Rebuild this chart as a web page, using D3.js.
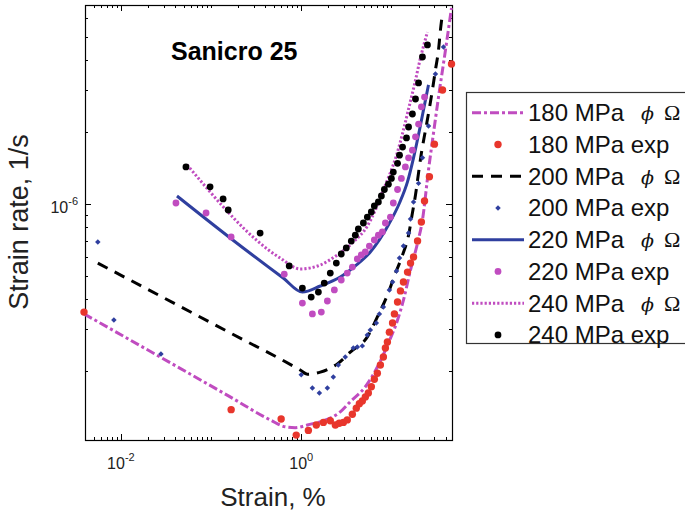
<!DOCTYPE html>
<html>
<head>
<meta charset="utf-8">
<script src="https://cdn.jsdelivr.net/npm/d3@7"></script>
<style>
  body { margin: 0; background: #fff; }
  svg { font-family: "Liberation Sans", Arial, sans-serif; }
</style>
</head>
<body>
<div id="chart"></div>
<script>
// strain in %, rate in units of 1e-6 1/s

// 180 MPa
var model180Strain = [0.0039, 0.163, 0.453, 0.664, 0.858, 1.17, 2.71, 3.5, 5.14, 6.99, 9.26, 11.7, 13.6, 16.3, 19.5, 22.1, 25.8, 29.3, 33.3, 39.8, 46.4];
var model180Rate   = [0.347, 0.156, 0.125, 0.117, 0.116, 0.119, 0.135, 0.149, 0.172, 0.208, 0.262, 0.327, 0.396, 0.530, 0.687, 0.857, 1.39, 1.98, 2.80, 4.41, 6.61];
var exp180Strain = [0.0039, 0.167, 0.599, 0.88, 1.2, 1.47, 1.76, 2.1, 2.39, 2.64, 2.93, 3.24, 3.69, 4.08, 4.41, 4.76, 5.14, 5.55, 5.99, 6.47, 6.99, 7.55, 8.15, 8.58, 9.03, 9.5, 10.3, 10.8, 11.7, 12.6, 13.6, 15.1, 16.3, 17.6, 19.5, 21.5, 23.3, 26.4, 30.0, 36.9, 46.4];
var exp180Rate   = [0.353, 0.138, 0.126, 0.108, 0.113, 0.119, 0.122, 0.124, 0.119, 0.121, 0.122, 0.125, 0.132, 0.140, 0.146, 0.150, 0.156, 0.162, 0.172, 0.185, 0.196, 0.212, 0.229, 0.250, 0.265, 0.291, 0.318, 0.347, 0.389, 0.433, 0.472, 0.519, 0.566, 0.600, 0.700, 0.841, 1.03, 1.30, 1.78, 3.00, 3.85];

// 200 MPa
var model200Strain = [0.00555, 0.163, 0.975, 1.17, 1.63, 2.58, 3.5, 5.41, 6.99, 9.03, 11.1, 13.3, 15.5, 17.1, 18.5, 20.0, 21.5, 23.9, 26.4, 28.5, 30.8, 33.3, 35.0, 36.9];
var model200Rate   = [0.566, 0.289, 0.202, 0.194, 0.198, 0.216, 0.240, 0.278, 0.337, 0.416, 0.514, 0.612, 0.741, 0.917, 1.09, 1.35, 1.63, 2.04, 2.52, 3.00, 3.64, 4.41, 5.35, 6.30];
var exp200Strain = [0.00555, 0.00836, 0.0278, 1.0, 1.33, 1.59, 1.95, 2.27, 2.58, 3.08, 3.78, 4.19, 4.76, 5.41, 5.84, 6.81, 7.36, 8.15, 9.5, 10.3, 11.4, 12.3, 13.6, 15.5, 16.3, 17.6, 20.0, 22.1, 25.8, 30.8, 37.8];
var exp200Rate   = [0.693, 0.327, 0.236, 0.193, 0.170, 0.162, 0.170, 0.189, 0.212, 0.229, 0.250, 0.252, 0.255, 0.283, 0.297, 0.318, 0.347, 0.371, 0.437, 0.472, 0.525, 0.594, 0.667, 0.756, 0.866, 1.02, 1.22, 1.56, 2.12, 3.50, 4.54];

// 220 MPa
var model220Strain = [0.0419, 0.163, 0.631, 1.03, 1.63, 2.71, 3.98, 5.84, 9.26, 12.3, 15.1, 17.6, 20.5, 23.3, 25.8];
var model220Rate   = [1.08, 0.721, 0.490, 0.428, 0.454, 0.495, 0.551, 0.630, 0.817, 1.01, 1.24, 1.56, 2.04, 2.60, 3.15];
var exp220Strain = [0.0408, 0.088, 0.167, 0.648, 1.03, 1.33, 1.67, 1.95, 2.33, 2.78, 3.24, 3.69, 4.19, 4.64, 5.14, 5.70, 6.47, 7.17, 7.94, 8.58, 9.75, 10.5, 11.7, 12.9, 14.3, 15.5, 17.1, 18.5, 20.0, 21.5, 23.3];
var exp220Rate   = [1.01, 0.917, 0.728, 0.509, 0.385, 0.347, 0.353, 0.393, 0.437, 0.481, 0.514, 0.545, 0.589, 0.612, 0.630, 0.667, 0.707, 0.741, 0.764, 0.833, 0.882, 1.01, 1.15, 1.28, 1.43, 1.56, 1.68, 1.91, 2.16, 2.55, 2.80];

// 240 MPa
var model240Strain = [0.0541, 0.585, 0.975, 1.63, 2.51, 3.78, 5.41, 6.64, 7.94, 9.50, 11.4, 13.6, 15.9, 18.0, 21.0, 25.1];
var model240Rate   = [1.46, 0.594, 0.535, 0.556, 0.612, 0.693, 0.809, 0.944, 1.12, 1.32, 1.60, 2.04, 2.60, 3.15, 4.08, 5.24];
var exp240Strain = [0.0527, 0.0975, 0.136, 0.155, 0.350, 0.736, 1.03, 1.29, 1.55, 1.80, 2.10, 2.45, 2.78, 3.16, 3.59, 3.98, 4.30, 4.89, 5.41, 5.99, 6.47, 7.17, 7.74, 8.36, 9.26, 10.0, 10.5, 11.7, 12.3, 13.3, 14.7, 15.5, 17.1, 18.5, 20.0, 22.1, 25.1];
var exp240Rate   = [1.43, 1.18, 1.05, 0.944, 0.756, 0.551, 0.445, 0.408, 0.428, 0.467, 0.514, 0.566, 0.618, 0.655, 0.700, 0.741, 0.786, 0.833, 0.882, 0.926, 0.981, 1.02, 1.08, 1.15, 1.21, 1.28, 1.36, 1.48, 1.60, 1.73, 1.89, 2.10, 2.38, 2.75, 3.21, 4.12, 4.63];

var legendLabels = ["180 MPa", "180 MPa exp", "200 MPa", "200 MPa exp", "220 MPa", "220 MPa exp", "240 MPa", "240 MPa exp"];
var xTickLabels = [{v: 1e-2, exp: "-2"}, {v: 1, exp: "0"}];
var yTickLabels = [{v: 1e-6, exp: "-6"}];

var magenta = "#c04cc0", red = "#e8362c", blue = "#2f3f9f";

function pts(xs, ys) {
    return xs.map(function (d, i) { return {x: d, y: ys[i] * 1e-6}; });
}

// drawing order: models behind, exp markers on top
var series = [
    {label: legendLabels[0], kind: "line", data: pts(model180Strain, model180Rate), color: magenta, dash: "9,3,3,3"},
    {label: legendLabels[1], kind: "dot", data: pts(exp180Strain, exp180Rate), color: red, r: 3.7},
    {label: legendLabels[2], kind: "line", data: pts(model200Strain, model200Rate), color: "#000", dash: "11,8"},
    {label: legendLabels[3], kind: "diamond", data: pts(exp200Strain, exp200Rate), color: blue},
    {label: legendLabels[4], kind: "line", data: pts(model220Strain, model220Rate), color: blue, dash: null},
    {label: legendLabels[5], kind: "dot", data: pts(exp220Strain, exp220Rate), color: magenta, r: 3.4},
    {label: legendLabels[6], kind: "line", data: pts(model240Strain, model240Rate), color: magenta, dash: "2.2,2"},
    {label: legendLabels[7], kind: "dot", data: pts(exp240Strain, exp240Rate), color: "#000", r: 3.4}
];

var width = 685, height = 517;
var plot = {left: 85, top: 5, right: 452, bottom: 440};

var svg = d3.select("#chart").append("svg")
    .attr("width", width)
    .attr("height", height);

var x = d3.scaleLog().domain([0.004, 47]).range([plot.left, plot.right]);
var y = d3.scaleLog().domain([1.03e-7, 6.8e-6]).range([plot.bottom, plot.top]);

function labelled(list, v) {
    return list.some(function (t) { return Math.abs(t.v - v) / v < 1e-9; });
}

// ticks inside on all four sides
var ticks = svg.append("g").attr("stroke", "#000").attr("stroke-width", 1);
x.ticks().filter(function (v) { return v >= 0.004 && v <= 47; }).forEach(function (v) {
    var px = Math.round(x(v)) + 0.5;
    var len = labelled(xTickLabels, v) ? 6 : 3;
    ticks.append("line").attr("x1", px).attr("x2", px).attr("y1", plot.bottom).attr("y2", plot.bottom - len);
    ticks.append("line").attr("x1", px).attr("x2", px).attr("y1", plot.top).attr("y2", plot.top + len);
});
y.ticks().filter(function (v) { return v >= 1.03e-7 && v <= 6.8e-6; }).forEach(function (v) {
    var py = Math.round(y(v)) + 0.5;
    var len = labelled(yTickLabels, v) ? 6 : 3;
    ticks.append("line").attr("y1", py).attr("y2", py).attr("x1", plot.left).attr("x2", plot.left + len);
    ticks.append("line").attr("y1", py).attr("y2", py).attr("x1", plot.right).attr("x2", plot.right - len);
});

// box
svg.append("rect")
    .attr("x", plot.left + 0.5).attr("y", plot.top + 0.5)
    .attr("width", plot.right - plot.left).attr("height", plot.bottom - plot.top)
    .attr("fill", "none").attr("stroke", "#000").attr("stroke-width", 1.2);

// tick labels
xTickLabels.forEach(function (t) {
    var tx = svg.append("text")
        .attr("x", x(t.v)).attr("y", 469)
        .attr("text-anchor", "middle")
        .attr("font-size", 16).attr("fill", "#222");
    tx.append("tspan").text("10");
    tx.append("tspan").attr("dy", -8).attr("font-size", 11).text(t.exp);
});
yTickLabels.forEach(function (t) {
    var ty = svg.append("text")
        .attr("x", 78).attr("y", y(t.v) + 9)
        .attr("text-anchor", "end")
        .attr("font-size", 16).attr("fill", "#222");
    ty.append("tspan").text("10");
    ty.append("tspan").attr("dy", -8).attr("font-size", 11).text(t.exp);
});

// axis titles
svg.append("text")
    .attr("x", 273).attr("y", 506)
    .attr("text-anchor", "middle")
    .attr("font-size", 26).attr("fill", "#222")
    .text("Strain, %");

svg.append("text")
    .attr("transform", "translate(28,222) rotate(-90)")
    .attr("text-anchor", "middle")
    .attr("font-size", 27).attr("fill", "#222")
    .text("Strain rate, 1/s");

svg.append("text")
    .attr("x", 171).attr("y", 60)
    .attr("font-size", 25).attr("font-weight", "bold")
    .text("Sanicro 25");

// series
var line = d3.line()
    .x(function (d) { return x(d.x); })
    .y(function (d) { return y(d.y); })
    .curve(d3.curveMonotoneX);

var diamond = d3.symbol().type(d3.symbolSquare).size(15);

function drawMarkers(g, s, pointsArr) {
    if (s.kind === "dot") {
        g.selectAll("circle").data(pointsArr).enter().append("circle")
            .attr("cx", function (d) { return d.cx; })
            .attr("cy", function (d) { return d.cy; })
            .attr("r", s.r)
            .attr("fill", s.color);
    } else {
        g.selectAll("path").data(pointsArr).enter().append("path")
            .attr("d", diamond)
            .attr("transform", function (d) { return "translate(" + d.cx + "," + d.cy + ") rotate(45)"; })
            .attr("fill", s.color);
    }
}

series.filter(function (s) { return s.kind === "line"; }).forEach(function (s) {
    svg.append("path")
        .datum(s.data)
        .attr("d", line)
        .attr("fill", "none")
        .attr("stroke", s.color)
        .attr("stroke-width", 3)
        .attr("stroke-dasharray", s.dash);
});
series.filter(function (s) { return s.kind !== "line"; }).forEach(function (s) {
    var g = svg.append("g");
    drawMarkers(g, s, s.data.map(function (d) { return {cx: x(d.x), cy: y(d.y)}; }));
});

// legend
var legend = svg.append("g");
legend.append("rect")
    .attr("x", 466.5).attr("y", 92.5)
    .attr("width", 240).attr("height", 251)
    .attr("fill", "#fff").attr("stroke", "#333").attr("stroke-width", 1.2);

series.forEach(function (s, i) {
    var cy = 112.7 + 31.75 * i;
    var row = legend.append("g");
    if (s.kind === "line") {
        row.append("line")
            .attr("x1", 472).attr("x2", 524)
            .attr("y1", cy).attr("y2", cy)
            .attr("stroke", s.color).attr("stroke-width", 3)
            .attr("stroke-dasharray", s.dash);
    } else {
        drawMarkers(row, s, [{cx: 498, cy: cy}]);
    }
    row.append("text")
        .attr("x", 528).attr("y", cy + 8.5)
        .attr("font-size", 24).attr("fill", "#111")
        .text(s.label);
    if (s.kind === "line") {
        row.append("text")
            .attr("x", 641).attr("y", cy + 7.5)
            .attr("font-family", "'DejaVu Serif', 'Liberation Serif', serif")
            .attr("font-style", "italic")
            .attr("font-size", 19).attr("fill", "#111")
            .text("\u03D5");
        row.append("text")
            .attr("x", 664).attr("y", cy + 7.5)
            .attr("font-family", "'Liberation Serif', 'DejaVu Serif', serif")
            .attr("font-size", 22).attr("fill", "#111")
            .text("\u03A9");
    }
});
</script>
</body>
</html>
